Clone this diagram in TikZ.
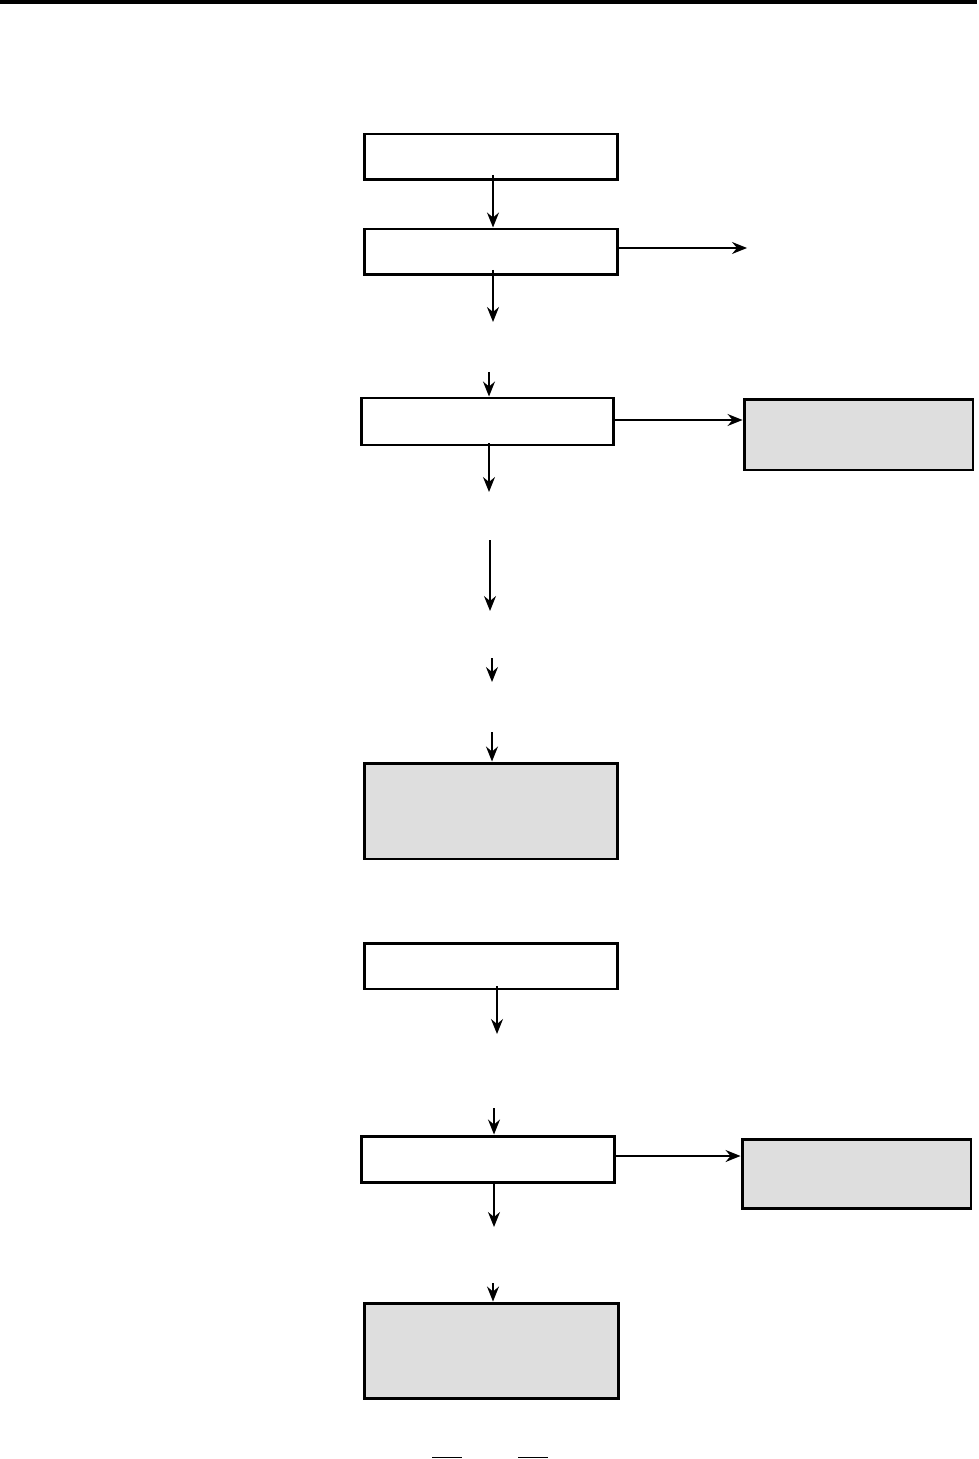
\documentclass[tikz,border=0pt]{standalone}
\usepackage{tikz}
\usetikzlibrary{arrows.meta}

\tikzset{
    blockbox/.style={draw=black,line width=1.7pt,fill=white,inner sep=0pt,
        minimum width=5.08cm,minimum height=0.92cm},
    greybox/.style={blockbox,fill=black!13},
    flow/.style={line width=0.85pt,-{Stealth[length=0.3cm,width=0.24cm,inset=0.1cm]}}
}

\begin{document}
\begin{tikzpicture}[x=0.02cm,y=-0.02cm]
        \useasboundingbox (0,0) rectangle (979,1459);

        \node[blockbox] (start) at (491,157) {};
        \node[blockbox] (read) at (491,252) {};
        \node[blockbox,minimum width=5.06cm,minimum height=0.94cm] (check) at (487.5,421.5) {};
        \node[greybox,minimum width=4.58cm,minimum height=1.42cm] (reject) at (858.5,434.5) {};
        \node[greybox,minimum height=1.92cm] (result) at (491,811) {};
        \node[blockbox] (next) at (491,966) {};
        \node[blockbox] (test) at (488,1159) {};
        \node[greybox,minimum width=4.58cm,minimum height=1.38cm] (error) at (856.5,1173.5) {};
        \node[greybox,minimum width=5.1cm,minimum height=1.9cm] (finish) at (491.5,1350.5) {};

        \coordinate (s1) at (493,175);
        \coordinate (e1) at (747,248);
        \coordinate (s2) at (493,270);
        \coordinate (e2) at (493,322);
        \coordinate (s3) at (489,372);
        \coordinate (s4) at (489,443);
        \coordinate (e4) at (489,492);
        \coordinate (s5) at (490,540);
        \coordinate (e5) at (490,611);
        \coordinate (s6) at (492,658);
        \coordinate (e6) at (492,682);
        \coordinate (s7) at (492,732);
        \coordinate (s8) at (497,986);
        \coordinate (e8) at (497,1034);
        \coordinate (s9) at (494,1108);
        \coordinate (s10) at (494,1182);
        \coordinate (e10) at (494,1227);
        \coordinate (s11) at (493,1283);

        \draw[line width=2.3pt] (0,2) -- (977,2);

        \draw[flow] (s1) -- (s1 |- read.north);
        \draw[flow] (read.east |- e1) -- (e1);
        \draw[flow] (s2) -- (e2);
        \draw[flow] (s3) -- (s3 |- check.north);
        \draw[flow] (check.east |- 0,420) -- (reject.west |- 0,420);
        \draw[flow] (s4) -- (e4);
        \draw[flow] (s5) -- (e5);
        \draw[flow] (s6) -- (e6);
        \draw[flow] (s7) -- (s7 |- result.north);
        \draw[flow] (s8) -- (e8);
        \draw[flow] (s9) -- (s9 |- test.north);
        \draw[flow] (test.east |- 0,1156) -- (error.west |- 0,1156);
        \draw[flow] (s10) -- (e10);
        \draw[flow] (s11) -- (s11 |- finish.north);

        \draw[line width=1pt] (432,1457.5) -- (462,1457.5);
        \draw[line width=1pt] (518,1457.5) -- (548,1457.5);

    \end{tikzpicture}
\end{document}
